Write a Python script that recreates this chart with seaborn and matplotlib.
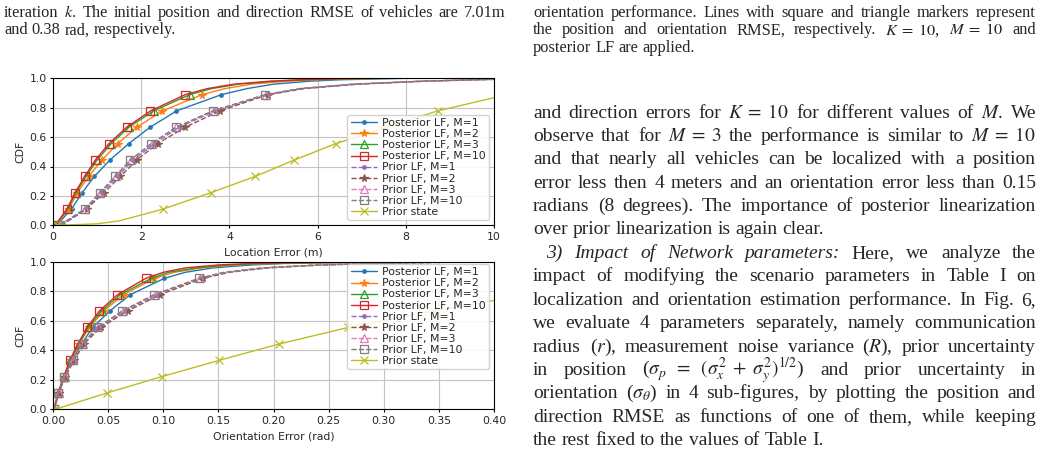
import re
import matplotlib
matplotlib.use('Agg')
import matplotlib.pyplot as plt
import seaborn as sns

# CDF levels at which the curve values were read (markers sit on the first nine)
cdf_levels = [0.0, 0.111, 0.222, 0.333, 0.444, 0.556, 0.667, 0.778, 0.889, 0.93, 0.96, 0.98, 0.99, 1.0]

# location error (m) at each CDF level
loc_post_m1 = [0.08, 0.42, 0.66, 0.94, 1.29, 1.72, 2.20, 2.80, 3.82, 4.40, 5.00, 5.80, 6.50, 8.00]
loc_post_m2 = [0.06, 0.36, 0.55, 0.81, 1.11, 1.47, 1.90, 2.48, 3.38, 3.90, 4.50, 5.30, 6.00, 7.50]
loc_post_m3 = [0.05, 0.33, 0.52, 0.75, 1.00, 1.32, 1.72, 2.28, 3.10, 3.60, 4.20, 5.00, 5.70, 7.00]
loc_post_m10 = [0.05, 0.32, 0.50, 0.72, 0.96, 1.27, 1.67, 2.21, 3.00, 3.50, 4.10, 4.90, 5.60, 7.00]
loc_prior_m1 = [0.18, 0.77, 1.10, 1.47, 1.82, 2.30, 2.86, 3.68, 4.86, 5.65, 6.85, 8.40, 9.60, 11.0]
loc_prior_m2 = [0.18, 0.76, 1.16, 1.53, 1.90, 2.37, 3.00, 3.78, 4.88, 5.70, 6.90, 8.40, 9.60, 11.0]
loc_prior_m3 = [0.15, 0.73, 1.07, 1.43, 1.77, 2.25, 2.80, 3.64, 4.83, 5.60, 6.80, 8.30, 9.50, 11.0]
loc_prior_m10 = [0.15, 0.72, 1.06, 1.41, 1.75, 2.23, 2.79, 3.62, 4.81, 5.60, 6.80, 8.30, 9.50, 11.0]
loc_prior_state_x = [0.10, 1.00, 1.50, 2.00, 2.50, 3.58, 4.59, 5.47, 6.42, 7.55, 8.72, 10.30]
loc_prior_state_cdf = [0.0, 0.01, 0.03, 0.07, 0.111, 0.222, 0.333, 0.444, 0.556, 0.667, 0.778, 0.889]

# orientation error (rad) at each CDF level
ori_post_m1 = [0.001, 0.0050, 0.0105, 0.0170, 0.0260, 0.0360, 0.0515, 0.0700, 0.1010, 0.120, 0.145, 0.180, 0.210, 0.300]
ori_post_m2 = [0.001, 0.0048, 0.0102, 0.0162, 0.0238, 0.0330, 0.0460, 0.0640, 0.0920, 0.110, 0.135, 0.165, 0.200, 0.280]
ori_post_m3 = [0.001, 0.0047, 0.0100, 0.0158, 0.0232, 0.0320, 0.0440, 0.0610, 0.0890, 0.105, 0.130, 0.160, 0.190, 0.270]
ori_post_m10 = [0.001, 0.0045, 0.0098, 0.0152, 0.0225, 0.0310, 0.0420, 0.0585, 0.0842, 0.100, 0.120, 0.150, 0.180, 0.250]
ori_prior_m1 = [0.001, 0.0052, 0.0110, 0.0188, 0.0275, 0.0420, 0.0650, 0.0940, 0.1340, 0.158, 0.192, 0.242, 0.292, 0.370]
ori_prior_m2 = [0.001, 0.0053, 0.0112, 0.0192, 0.0280, 0.0434, 0.0676, 0.0970, 0.1360, 0.160, 0.195, 0.245, 0.295, 0.370]
ori_prior_m3 = [0.001, 0.0050, 0.0106, 0.0183, 0.0268, 0.0410, 0.0635, 0.0925, 0.1330, 0.156, 0.190, 0.240, 0.290, 0.360]
ori_prior_m10 = [0.001, 0.0048, 0.0103, 0.0179, 0.0264, 0.0403, 0.0627, 0.0915, 0.1320, 0.155, 0.190, 0.240, 0.290, 0.360]
ori_prior_state_x = [0.002, 0.049, 0.0987, 0.151, 0.2054, 0.268, 0.345, 0.430]
ori_prior_state_cdf = [0.0, 0.111, 0.222, 0.333, 0.444, 0.556, 0.667, 0.778]

labels = ['Posterior LF, M=1', 'Posterior LF, M=2', 'Posterior LF, M=3', 'Posterior LF, M=10',
          'Prior LF, M=1', 'Prior LF, M=2', 'Prior LF, M=3', 'Prior LF, M=10', 'Prior state']
colors = ['#1f77b4', '#ff7f0e', '#2ca02c', '#d62728', '#9467bd', '#8c564b', '#e377c2', '#7f7f7f', '#bcbd22']
markers = ['.', '*', '^', 's', '.', '*', '^', 's', 'x']
styles = ['-', '-', '-', '-', '--', '--', '--', '--', '-']

# page text around the figure
caption_left = ['iteration $k$. The initial position and direction RMSE of vehicles are 7.01m',
                'and 0.38 rad, respectively.']
caption_right = ['orientation performance. Lines with square and triangle markers represent',
                 'the position and orientation RMSE, respectively. $K\\;=\\;10$, $M\\;=\\;10$ and',
                 'posterior LF are applied.']
body = ['and direction errors for $K\\;=\\;10$ for different values of $M$. We',
        'observe that for $M\\;=\\;3$ the performance is similar to $M\\;=\\;10$',
        'and that nearly all vehicles can be localized with a position',
        'error less then 4 meters and an orientation error less than 0.15',
        'radians (8 degrees). The importance of posterior linearization',
        'over prior linearization is again clear.',
        '3) Impact of Network parameters: Here, we analyze the',
        'impact of modifying the scenario parameters in Table I on',
        'localization and orientation estimation performance. In Fig. 6,',
        'we evaluate 4 parameters separately, namely communication',
        'radius ($r$), measurement noise variance ($R$), prior uncertainty',
        'in position ($\\sigma_p\\;\\;=\\;\\;(\\sigma_x^2\\;+\\;\\sigma_y^2)^{1/2}$) and prior uncertainty in',
        'orientation ($\\sigma_\\theta$) in 4 sub-figures, by plotting the position and',
        'direction RMSE as functions of one of them, while keeping',
        'the rest fixed to the values of Table I.']

sns.set_style('whitegrid', {'axes.edgecolor': 'black', 'grid.color': '#c4c4c4',
                            'xtick.bottom': True, 'ytick.left': True})
plt.rcParams['font.family'] = ['DejaVu Sans']
plt.rcParams['mathtext.fontset'] = 'stix'
plt.rcParams['axes.linewidth'] = 0.8
plt.rcParams['grid.linewidth'] = 0.8

W, H = 1041, 458
fig = plt.figure(figsize=(W / 100, H / 100), dpi=100)
fs = 7.8


def draw_panel(ax, curves, ps_x, ps_cdf, xmax, xstep, fmt):
    for i, xs in enumerate(curves):
        open_face = markers[i] in ('^', 's')
        sns.lineplot(x=xs, y=cdf_levels, ax=ax, sort=False, estimator=None,
                     color=colors[i], marker=markers[i], markevery=list(range(9)),
                     linestyle=styles[i], lw=1.0, ms=5.5 if markers[i] != '.' else 5,
                     markerfacecolor='none' if open_face else colors[i],
                     markeredgecolor=colors[i], markeredgewidth=0.9, label=labels[i])
    sns.lineplot(x=ps_x, y=ps_cdf, ax=ax, sort=False, estimator=None, color=colors[8],
                 marker='x', markevery=[j for j, c in enumerate(ps_cdf) if c == 0 or c >= 0.11],
                 lw=1.0, ms=5.5, markeredgecolor=colors[8], markeredgewidth=0.9, label=labels[8])
    ax.set_xlim(0, xmax)
    ax.set_ylim(0, 1)
    n = int(round(xmax / xstep)) + 1
    ax.set_xticks([k * xstep for k in range(n)])
    ax.set_xticklabels([fmt.format(k * xstep) for k in range(n)])
    ax.set_yticks([0, 0.2, 0.4, 0.6, 0.8, 1.0])
    ax.set_yticklabels(['0.0', '0.2', '0.4', '0.6', '0.8', '1.0'])
    ax.tick_params(labelsize=fs, length=2.5, width=0.8, pad=2, color='black')
    ax.set_ylabel('CDF', fontsize=fs, labelpad=3)
    for s in ax.spines.values():
        s.set_color('black')


leg_kw = dict(borderaxespad=0, fontsize=fs, labelspacing=0.1, handlelength=2.4, handletextpad=0.5,
              borderpad=0.3, frameon=True, fancybox=True, edgecolor='#cccccc', framealpha=0.85,
              bbox_transform=fig.transFigure)

ax1 = fig.add_axes([53 / W, 1 - 225.3 / H, 441 / W, 147 / H])
draw_panel(ax1, [loc_post_m1, loc_post_m2, loc_post_m3, loc_post_m10,
                 loc_prior_m1, loc_prior_m2, loc_prior_m3, loc_prior_m10],
           loc_prior_state_x, loc_prior_state_cdf, 10, 2, '{:.0f}')
ax1.set_xlabel('Location Error (m)', fontsize=fs, labelpad=4)
ax1.legend(loc='lower right', bbox_to_anchor=(489 / W, 1 - 220 / H), **leg_kw)

ax2 = fig.add_axes([53 / W, 1 - 409.3 / H, 441 / W, 147.3 / H])
draw_panel(ax2, [ori_post_m1, ori_post_m2, ori_post_m3, ori_post_m10,
                 ori_prior_m1, ori_prior_m2, ori_prior_m3, ori_prior_m10],
           ori_prior_state_x, ori_prior_state_cdf, 0.40, 0.05, '{:.2f}')
ax2.set_xlabel('Orientation Error (rad)', fontsize=fs, labelpad=4)
ax2.legend(loc='upper right', bbox_to_anchor=(489 / W, 1 - 264 / H), **leg_kw)

renderer = fig.canvas.get_renderer()


def put_line(line, x0, x1, y, size, justify=True, italic_n=0):
    words = re.findall(r'(?:\$[^$]*\$|[^\s$])+', line)
    objs = [fig.text(0, 1 - y / H, w, fontsize=size, family='Liberation Serif',
                     style='italic' if i < italic_n else 'normal', va='baseline', ha='left')
            for i, w in enumerate(words)]
    widths = [t.get_window_extent(renderer).width for t in objs]
    gap = size * 100 / 72 * 0.25
    if justify and len(objs) > 1:
        gap = max((x1 - x0 - sum(widths)) / (len(objs) - 1), size * 100 / 72 * 0.12)
    x = x0
    for t, w in zip(objs, widths):
        t.set_x(x / W)
        x += w + gap


for i, line in enumerate(caption_left):
    put_line(line, 4, 506, 17 + i * 17.5, 11.8, justify=i < len(caption_left) - 1)
for i, line in enumerate(caption_right):
    put_line(line, 533, 1036, 17 + i * 17.5, 11.8, justify=i < len(caption_right) - 1)
for i, line in enumerate(body):
    last = i in (5, 14)
    x0 = 546 if i == 6 else 533
    put_line(line, x0, 1036, 117.5 + i * 23.4, 14.0, justify=not last, italic_n=5 if i == 6 else 0)

fig.savefig('out.png', dpi=100)
